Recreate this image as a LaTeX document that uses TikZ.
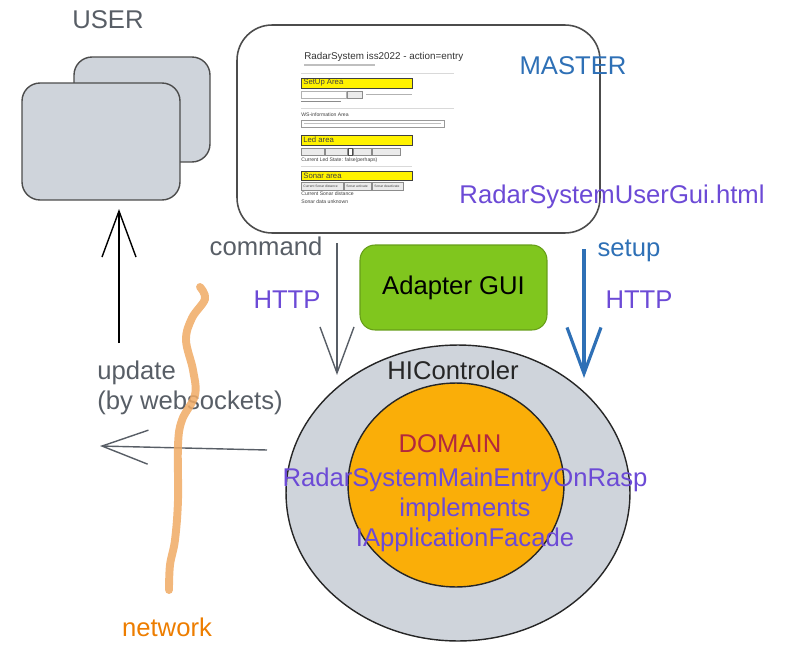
\documentclass[tikz,border=0pt]{standalone}
\usepackage{fontspec}
\setmainfont{Liberation Sans}
\usetikzlibrary{shapes.geometric,arrows.meta}

\definecolor{txtgray}{RGB}{88,94,102}
\definecolor{usrgray}{RGB}{207,212,219}
\definecolor{masterblue}{RGB}{46,112,182}
\definecolor{httppurple}{RGB}{108,74,214}
\definecolor{domainred}{RGB}{178,40,62}
\definecolor{domainorange}{RGB}{250,174,8}
\definecolor{adaptgreen}{RGB}{128,198,30}
\definecolor{netorange}{RGB}{240,170,100}
\definecolor{nettext}{RGB}{237,125,0}

\tikzset{
  lbl/.style={font=\fontsize{14.6}{17}\selectfont, inner sep=0pt},
  usrbox/.style={draw=black!70, fill=usrgray, rounded corners=0.36cm, line width=0.8pt},
  shot/.style={font=\fontsize{2.9}{3.2}\selectfont, inner sep=0pt, anchor=west, text=black!75},
  btntxt/.style={shot, font=\fontsize{1.9}{2.2}\selectfont},
  yellowbar/.style={draw=black!75, fill=yellow, line width=0.5pt},
  btn/.style={draw=black!45, fill=black!8, line width=0.3pt},
}

\begin{document}
\begin{tikzpicture}[x=0.02cm,y=-0.02cm,>={Straight Barb[length=0.92cm,width=0.68cm]}]
    \useasboundingbox (0,0) rectangle (797,655);

    % User side
    \node[lbl, text=txtgray] (usertxt) at (108,20) {USER};
    \node[usrbox, minimum width=2.72cm, minimum height=2.1cm] (userback) at (142,109.5) {};
    \node[usrbox, minimum width=3.16cm, minimum height=2.34cm] (userfront) at (101,141.5) {};

    % Master box with the gui page
    \node[draw=black!70, fill=white, rounded corners=0.7cm, line width=0.9pt,
          minimum width=7.26cm, minimum height=4.16cm] (master) at (418.5,129) {};
    \node[lbl, text=masterblue] (mastertxt) at (573,66) {MASTER};
    \node[lbl, text=httppurple] (guifile) at (612,197) {RadarSystemUserGui.html};

    % Screenshot of the page
    \node[anchor=west, inner sep=0pt, text=black!80, font=\fontsize{5.6}{6}\selectfont] (shottitle) at (304,57) {RadarSystem iss2022 - action=entry};
    \draw[black!25, line width=1pt] (304,65) -- (375,65);
    \draw[black!15, line width=0.4pt] (301,73) -- (454,73);
    \draw[yellowbar] (301,78) rectangle (412,88);
    \node[shot, font=\fontsize{4.4}{5}\selectfont] (setuparea) at (303,83) {SetUp Area};
    \draw[black!30, line width=0.3pt, fill=white] (301,91) rectangle (346,98);
    \draw[btn] (347,91) rectangle (362,98);
    \draw[black!30, line width=1pt] (366,94.5) -- (412,94.5);
    \draw[black!45, line width=1pt] (301,101.5) -- (341,101.5);
    \draw[black!15, line width=0.4pt] (301,108) -- (454,108);
    \node[shot] (wsarea) at (301,115) {WS-information Area};
    \draw[black!40, line width=0.3pt] (301,120) rectangle (444,127);
    \draw[black!25, line width=1pt] (304,123.5) -- (441,123.5);
    \draw[yellowbar] (301,135) rectangle (412,145);
    \node[shot, font=\fontsize{4.4}{5}\selectfont] (ledarea) at (303,140) {Led area};
    \draw[btn] (301,148) rectangle (324,155);
    \draw[btn] (325,148) rectangle (347,155);
    \draw[black!70, line width=0.3pt] (348,148) rectangle (352,155);
    \draw[btn] (353,148) rectangle (371,155);
    \draw[btn] (372,148) rectangle (400,155);
    \node[shot] (ledstate) at (301,160) {Current Led State: false(perhaps)};
    \draw[black!15, line width=0.4pt] (301,166) -- (412,166);
    \draw[yellowbar] (301,171) rectangle (412,180);
    \node[shot, font=\fontsize{4.4}{5}\selectfont] (sonararea) at (303,175.5) {Sonar area};
    \draw[btn] (301,182) rectangle (343,190);
    \draw[btn] (344,182) rectangle (371,190);
    \draw[btn] (372,182) rectangle (403,190);
    \node[btntxt] (btndist) at (303,186) {Current Sonar distance};
    \node[btntxt] (btnact) at (346,186) {Sonar activate};
    \node[btntxt] (btndeact) at (374,186) {Sonar deactivate};
    \node[shot] (sonardist) at (301,194) {Current Sonar distance};
    \node[shot] (sonardata) at (301,202) {Sonar data unknown};

    % Adapter
    \node[draw=adaptgreen!80!black, fill=adaptgreen, rounded corners=0.3cm, line width=0.6pt,
          minimum width=3.74cm, minimum height=1.7cm, lbl] (adapter) at (453.5,287.5) {Adapter GUI};

    % HIControler and domain
    \node[ellipse, draw=black!85, fill=usrgray, line width=0.8pt, inner sep=0pt,
          minimum width=6.88cm, minimum height=5.92cm] (hictl) at (458,493) {};
    \node[ellipse, draw=black!85, fill=domainorange, line width=0.8pt, inner sep=0pt,
          minimum width=4.32cm, minimum height=4.08cm] (domain) at (456,485) {};
    \node[lbl, text=black!85] (hictltxt) at (453,370) {HIControler};
    \node[lbl, text=domainred] (domaintxt) at (450,444) {DOMAIN};
    \node[lbl, text=httppurple, align=center] (facade) at (465,510)
      {RadarSystemMainEntryOnRasp\\implements\\IApplicationFacade};

    % command (HTTP)
    \coordinate (cmdtail) at (337,243);
    \coordinate (cmdtip) at (337,375);
    \draw[->, txtgray, line width=0.8pt] (cmdtail) -- (cmdtip);
    \node[lbl, text=txtgray] (cmdtxt) at (266,246) {command};
    \node[lbl, text=httppurple] (httpleft) at (287,300) {HTTP};

    % setup (HTTP)
    \coordinate (setuptail) at (584,249);
    \coordinate (setuptip) at (584,378);
    \draw[->, masterblue, line width=1.8pt] (setuptail) -- (setuptip);
    \node[lbl, text=masterblue] (setuptxt) at (629,251) {setup};
    \node[lbl, text=httppurple] (httpright) at (639,300) {HTTP};

    % update to the user
    \coordinate (updout) at (267,450);
    \coordinate (updend) at (100,446);
    \draw[->, txtgray, line width=0.8pt] (updout) -- (updend);
    \coordinate (usrtail) at (119,343);
    \coordinate (usrtip) at (119,209);
    \draw[->, black, line width=0.8pt] (usrtail) -- (usrtip);
    \node[lbl, text=txtgray, align=left, anchor=west] (updtxt) at (97,388) {update\\(by websockets)};

    % network
    \draw[netorange, opacity=0.85, line width=4.5pt, line cap=round] plot[smooth, tension=0.6] coordinates
      {(200,287) (205,299) (192,318) (186,340) (193,370) (195,395) (182,420) (178,445)
       (178,500) (175,540) (170,565) (169,590)};
    \node[lbl, text=nettext] (nettxt) at (167,627) {network};
\end{tikzpicture}
\end{document}
